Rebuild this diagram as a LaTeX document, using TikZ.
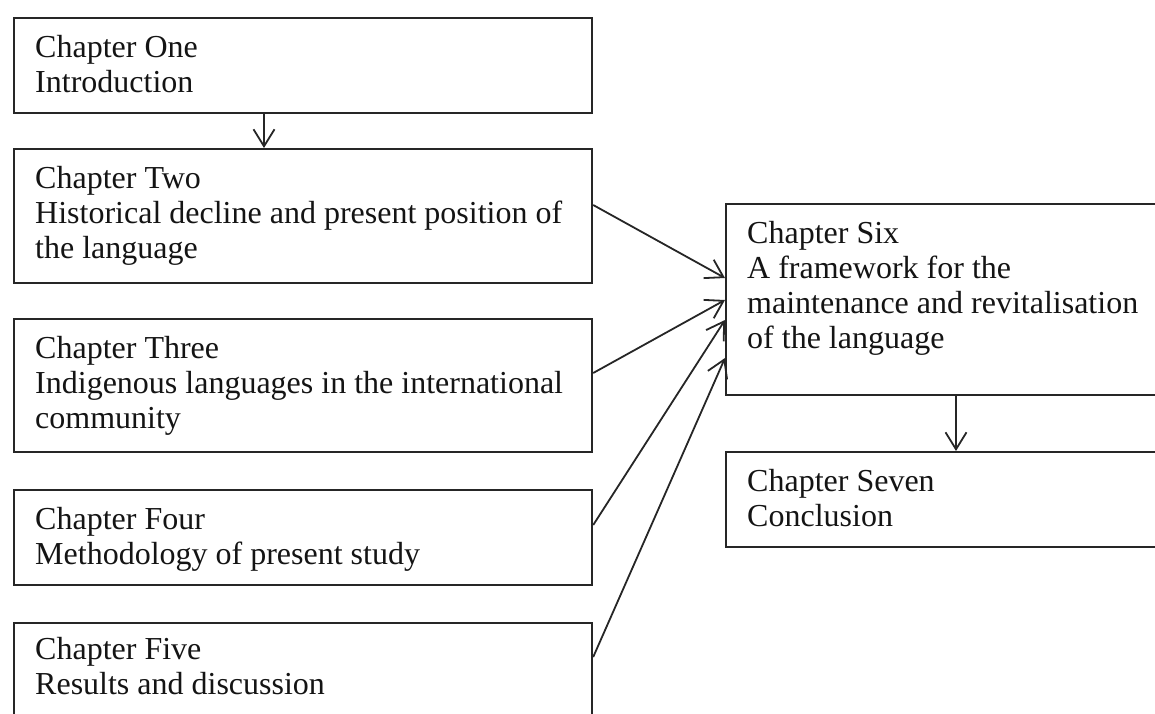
\documentclass[tikz,border=0pt]{standalone}
\usepackage{fontspec}
\setmainfont{Liberation Serif}
\usetikzlibrary{arrows.meta,calc}
\begin{document}
\begin{tikzpicture}[x=1pt,y=1pt,
  box/.style={draw=black!85, line width=2.2pt, rectangle, inner sep=0pt, anchor=north west},
  txt/.style={anchor=north west, inner sep=0pt, align=left, font=\fontsize{32}{35}\selectfont, text=black!92},
  arr/.style={draw=black!85, line width=1.8pt, -{Straight Barb[length=17pt,width=21pt,line width=1.8pt]}}]
\useasboundingbox (0,0) rectangle (1155,-713);
\clip (0,0) rectangle (1155,-713);
% boxes
\node[box, minimum width=578, minimum height=95]  (one)   at (13,-17)  {};
\node[box, minimum width=578, minimum height=134] (two)   at (13,-148) {};
\node[box, minimum width=578, minimum height=133] (three) at (13,-318) {};
\node[box, minimum width=578, minimum height=95]  (four)  at (13,-489) {};
\node[box, minimum width=578, minimum height=130] (five)  at (13,-622) {};
\node[box, minimum width=445, minimum height=191] (six)   at (725,-203) {};
\node[box, minimum width=445, minimum height=95]  (seven) at (725,-451) {};
% texts
\node[txt] (t1) at ([shift={(22,-18.5)}]one.north west)   {Chapter One\\Introduction};
\node[txt] (t2) at ([shift={(22,-18.5)}]two.north west)   {Chapter Two\\Historical decline and present position of\\the language};
\node[txt] (t3) at ([shift={(22,-18.5)}]three.north west) {Chapter Three\\Indigenous languages in the international\\community};
\node[txt] (t4) at ([shift={(22,-18.5)}]four.north west)  {Chapter Four\\Methodology of present study};
\node[txt] (t5) at ([shift={(22,-15.5)}]five.north west)  {Chapter Five\\Results and discussion};
\node[txt] (t6) at ([shift={(22,-18.5)}]six.north west)   {Chapter Six\\A framework for the\\maintenance and revitalisation\\of the language};
\node[txt] (t7) at ([shift={(22,-18.5)}]seven.north west) {Chapter Seven\\Conclusion};
% connectors
\draw[arr] ([xshift=251]one.south west) -- ([xshift=251]two.north west);
\draw[arr] ([yshift=-57]two.north east)   -- ([yshift=-75]six.north west);
\draw[arr] ([yshift=-55]three.north east) -- ([yshift=-97]six.north west);
\draw[arr] ([yshift=-36]four.north east)  -- ([yshift=-117]six.north west);
\draw[arr] ([yshift=-35]five.north east)  -- ([yshift=-155]six.north west);
\draw[arr] ([xshift=231]six.south west)   -- ([xshift=231]seven.north west);
\end{tikzpicture}
\end{document}
